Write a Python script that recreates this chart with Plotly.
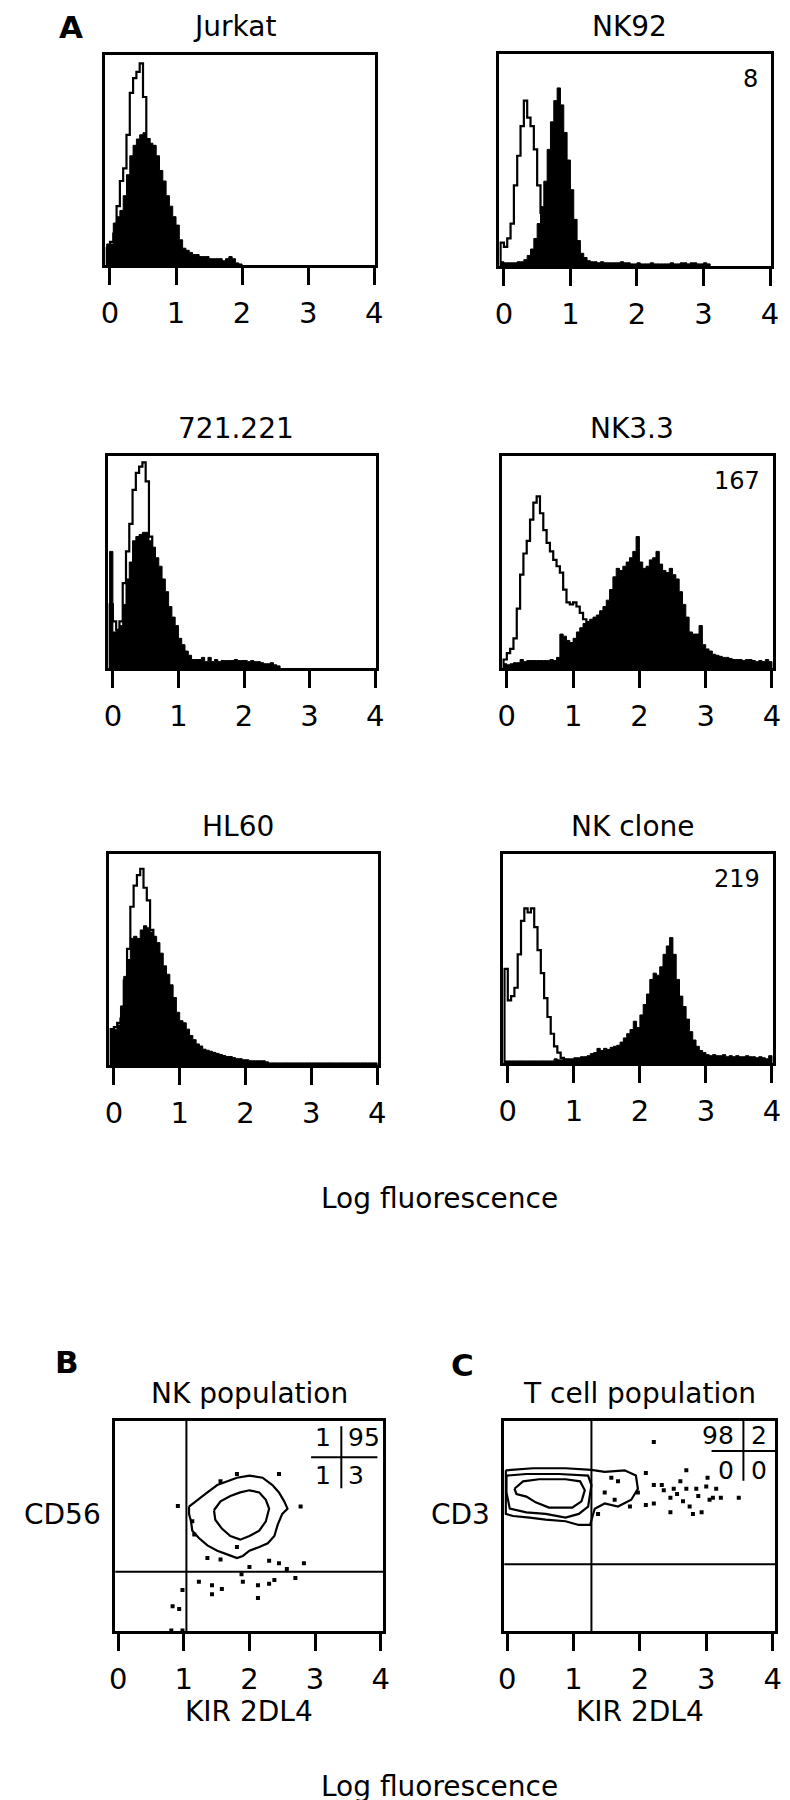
import plotly.graph_objects as go

W, H = 790, 1800
FONT = "DejaVu Sans, Liberation Sans, Arial, sans-serif"

# ---------------- data ----------------
BIN_START = -0.05      # left edge of first histogram channel (log fluorescence)
BIN_WIDTH = 0.05

panel_names = ["Jurkat", "NK92", "721.221", "NK3.3", "HL60", "NK clone"]
panel_numbers = ["", "8", "", "167", "", "219"]
x_ticks = [0, 1, 2, 3, 4]

# histogram heights (% of frame height), channel by channel from -0.05
jurkat_open = [8, 11, 15, 28, 40, 46, 62, 82, 89, 92, 96, 80, 60, 45, 35, 27, 20, 15, 11, 8,
               6, 4, 3, 2, 2, 1, 1]
jurkat_filled = [10, 10, 20, 23, 26, 33, 43, 52, 57, 60, 62, 63, 60, 58, 57, 52, 45, 40, 33, 28,
                 23, 19, 12, 8, 7, 6, 5, 5, 4, 4, 4, 3, 3, 3, 3, 2, 3, 4, 3, 1, 0.5]

nk92_open = [11, 9, 13, 20, 38, 52, 66, 78, 70, 66, 55, 38, 25, 15, 9, 5, 3, 2, 1, 1]
nk92_filled = [2, 1.5, 1.5, 1.5, 1.5, 2, 2, 3, 5, 8, 13, 20, 28, 40, 55, 68, 78, 84, 76, 63,
               50, 36, 22, 12, 6, 4, 2.5, 2, 2, 1.5, 2, 1.5, 1.5, 1.5, 1.5, 1.5, 2, 1.5, 1.5, 1,
               1, 1.5, 1, 1, 1, 1.5, 1, 1, 1, 1, 1, 1.5, 1, 1, 1.5, 1.5, 1, 1.5, 1.5, 1,
               1, 1.5, 1]

c721_open = [30, 22, 18, 22, 40, 55, 68, 84, 92, 95, 97, 88, 62, 45, 33, 25, 18, 13, 9, 6,
             4, 3, 2, 1]
c721_filled = [55, 17, 18, 20, 30, 42, 50, 60, 62, 63, 64, 64, 60, 57, 52, 48, 42, 36, 29, 24,
               20, 14, 11, 8, 6, 4, 4, 4, 5, 3, 5, 3, 4, 3, 3.5, 3.5, 3.5, 3.5, 4, 3.5,
               3.5, 3.5, 3, 3.5, 3, 3, 2.5, 2, 2, 2.5, 1.5, 1]

nk33_open = [4, 7, 9, 14, 28, 44, 54, 60, 70, 78, 81, 73, 65, 59, 55, 51, 48, 45, 37, 31,
             30, 31, 29, 26, 23, 21, 19, 16, 13, 10, 8, 6, 5, 4, 3, 2, 2, 1]
nk33_filled = [2, 1.5, 2, 2.5, 2.5, 4, 3, 3.5, 3.5, 3.5, 3.5, 3.5, 3.5, 3.5, 4, 3.5, 5, 16, 15, 13,
               12, 14, 17, 19, 21, 22, 23, 24, 25, 27, 29, 32, 37, 43, 47, 46, 48, 50, 52, 55,
               62, 50, 47, 48, 51, 52, 55, 49, 46, 45, 47, 44, 42, 36, 30, 24, 17, 16, 16, 20,
               11, 9, 8, 6.5, 6, 5.5, 5, 5, 4.5, 4, 4, 4, 3.5, 4, 4, 3.5, 3, 3.5, 3, 4,
               3]

hl60_open = [17, 18, 20, 22, 40, 55, 75, 85, 90, 93, 84, 78, 64, 50, 40, 32, 24, 18, 13, 9,
             6, 4, 3, 2, 1.5, 1]
hl60_filled = [17, 17, 19, 28, 42, 50, 60, 61, 60, 64, 66, 65, 63, 61, 58, 53, 47, 43, 38, 32,
               25, 21, 20, 17, 14, 12, 10, 9, 7.5, 7, 6.5, 6, 5.5, 5, 4.5, 4, 4, 3.5, 3, 3,
               2.5, 2.5, 2, 2, 2, 2, 2, 1.5, 1, 1, 1, 1, 1, 1, 1, 1, 1, 1, 1, 1,
               1, 1, 1, 1, 1, 1, 1, 1, 1, 1, 1, 1, 1, 1, 1, 1, 1, 1, 1, 1,
               1]

nkclone_open = [45, 30, 32, 36, 52, 68, 74, 72, 74, 65, 54, 43, 31, 22, 14, 8, 5, 2.5, 1.5, 1]
nkclone_filled = [1, 1, 1, 1, 1, 1, 1, 1, 1, 1, 1, 1, 1, 1, 1, 2, 1.5, 1.5, 2, 2,
                  2, 2.5, 2.5, 3, 3, 3.5, 4.5, 5, 7, 6, 7, 6.5, 7.5, 8, 8.5, 10, 12, 14, 16, 20,
                  17, 23, 28, 33, 40, 43, 42, 46, 52, 56, 60, 52, 40, 32, 27, 21, 15, 11, 8, 6,
                  5, 4, 3.5, 4, 3.5, 3.5, 4, 3, 3.5, 3, 3.5, 3, 3, 3.5, 3, 3, 2.5, 3, 2.5, 2,
                  3.5]

open_hists = [jurkat_open, nk92_open, c721_open, nk33_open, hl60_open, nkclone_open]
filled_hists = [jurkat_filled, nk92_filled, c721_filled, nk33_filled, hl60_filled, nkclone_filled]

# --- B: NK population (KIR 2DL4 vs CD56) ---
nk_gate_x, nk_gate_y = 1.04, 1.13
nk_quadrants = ["1", "95", "1", "3"]          # UL, UR, LL, LR (%)
nk_outer_x = [1.08, 1.21, 1.36, 1.51, 1.66, 1.81, 2.00, 2.20, 2.35, 2.45, 2.53, 2.58, 2.50, 2.43,
              2.38, 2.28, 2.15, 2.00, 1.90, 1.81, 1.66, 1.51, 1.36, 1.23, 1.13, 1.11, 1.08, 1.08]
nk_outer_y = [2.37, 2.50, 2.64, 2.78, 2.85, 2.92, 2.96, 2.92, 2.78, 2.64, 2.47, 2.33, 2.23, 2.02,
              1.81, 1.67, 1.60, 1.53, 1.43, 1.39, 1.46, 1.53, 1.63, 1.77, 1.91, 2.09, 2.23, 2.37]
nk_inner_x = [1.46, 1.56, 1.71, 1.86, 2.00, 2.15, 2.25, 2.30, 2.25, 2.15, 2.00, 1.86, 1.71, 1.58,
              1.48, 1.46]
nk_inner_y = [2.30, 2.47, 2.57, 2.64, 2.68, 2.64, 2.50, 2.33, 2.09, 1.91, 1.81, 1.74, 1.81, 1.95,
              2.12, 2.30]
nk_dots_x = [0.91, 1.36, 1.81, 2.30, 2.45, 2.57, 2.83, 2.70, 2.45, 1.81, 1.56, 2.78, 1.23, 1.43,
             1.58, 1.43, 1.88, 1.90, 2.13, 2.30, 2.38, 2.13, 0.98, 0.83, 0.93, 0.81, 0.98, 1.13,
             1.16, 1.56, 2.00]
nk_dots_y = [2.38, 1.39, 1.60, 1.34, 1.29, 1.18, 1.29, 1.01, 2.99, 2.99, 2.85, 2.37, 0.94, 0.87,
             0.80, 0.70, 1.08, 0.94, 0.87, 0.90, 0.97, 0.63, 0.78, 0.47, 0.42, 0.01, 0.01, 2.09,
             1.84, 1.36, 1.22]

# --- C: T cell population (KIR 2DL4 vs CD3) ---
t_gate_x, t_gate_y = 1.27, 1.27
t_quadrants = ["98", "2", "0", "0"]
t_outer_x = [-0.02, 0.39, 0.88, 1.27, 1.47, 1.77, 1.94, 1.97, 1.87, 1.67, 1.47, 1.32, 1.25, 1.08,
             0.88, 0.58, 0.34, 0.09, -0.02, -0.02]
t_outer_y = [3.06, 3.10, 3.10, 3.07, 3.03, 3.06, 2.96, 2.71, 2.50, 2.37, 2.43, 2.33, 2.02, 2.02,
             2.09, 2.12, 2.16, 2.19, 2.23, 3.06]
t_mid_x = [-0.01, 0.29, 0.78, 1.22, 1.27, 1.22, 1.08, 0.88, 0.58, 0.29, 0.04, -0.01, -0.01]
t_mid_y = [2.96, 2.99, 2.99, 2.96, 2.78, 2.37, 2.23, 2.16, 2.23, 2.26, 2.33, 2.64, 2.96]
t_inner_x = [0.11, 0.24, 0.48, 0.88, 1.10, 1.17, 1.12, 0.98, 0.63, 0.43, 0.29, 0.14, 0.11]
t_inner_y = [2.71, 2.85, 2.89, 2.89, 2.85, 2.68, 2.47, 2.35, 2.35, 2.45, 2.56, 2.61, 2.71]
t_dots_x = [2.21, 2.70, 3.02, 2.09, 2.21, 2.33, 2.51, 2.61, 2.70, 2.85, 3.00, 3.15, 3.22, 3.49,
            1.97, 2.09, 2.21, 2.46, 2.46, 2.75, 2.80, 2.93, 3.05, 1.85, 2.56, 2.88, 3.10, 2.65,
            2.36, 1.62, 1.47, 1.57, 1.67, 1.37]
t_dots_y = [3.60, 3.06, 2.92, 3.01, 2.78, 2.78, 2.71, 2.85, 2.71, 2.71, 2.75, 2.71, 2.54, 2.54,
            2.64, 2.40, 2.43, 2.54, 2.26, 2.37, 2.23, 2.26, 2.50, 2.37, 2.61, 2.57, 2.54, 2.47,
            2.68, 2.50, 2.64, 2.92, 2.85, 2.23]

# ---------------- layout helpers ----------------
# frame boxes in pixels: (left, right, top, bottom)
hist_boxes = [(93, 368, 47, 257), (494, 771, 46, 258),
              (96, 369, 448, 660), (497, 773, 448, 660),
              (97, 371, 846, 1057), (498, 773, 846, 1055)]
dot_boxes = [(103, 376, 1413, 1623), (499, 775, 1413, 1623)]


def px(x):
    return x / W


def py(y):
    return 1 - y / H


fig = go.Figure()
layout = {}
annotations = []
shapes = []

TICKFONT = dict(family=FONT, size=29, color="black")
TITLEFONT = dict(family=FONT, size=28, color="black")


def make_axes(idx, box, xrange, yrange):
    l, r, t, b = box
    xa = "xaxis" if idx == 1 else f"xaxis{idx}"
    ya = "yaxis" if idx == 1 else f"yaxis{idx}"
    layout[xa] = dict(domain=[px(l), px(r)], range=xrange, anchor=f"y{idx if idx > 1 else ''}",
                      tickmode="array", tickvals=x_ticks, ticktext=[str(v) for v in x_ticks],
                      ticks="outside", ticklen=17, tickwidth=2.5, tickcolor="black",
                      showline=True, mirror=True, linecolor="black", linewidth=3,
                      showgrid=False, zeroline=False, tickfont=TICKFONT,
                      ticklabelstandoff=3, fixedrange=True)
    layout[ya] = dict(domain=[py(b), py(t)], range=yrange, anchor=f"x{idx if idx > 1 else ''}",
                      showticklabels=False, ticks="", showline=True, mirror=True,
                      linecolor="black", linewidth=3, showgrid=False, zeroline=False,
                      fixedrange=True)
    return f"x{idx if idx > 1 else ''}", f"y{idx if idx > 1 else ''}"


def edges(n):
    return [round(BIN_START + i * BIN_WIDTH, 4) for i in range(n + 1)]


for i, name in enumerate(panel_names):
    box = hist_boxes[i]
    xr, yr = make_axes(i + 1, box, [-0.07, 4.02], [0, 100])
    o = open_hists[i]
    f = filled_hists[i]
    eo = edges(len(o))
    fig.add_trace(go.Scatter(x=[eo[0]] + eo, y=[0] + o + [0], mode="lines",
                             line=dict(shape="hv", color="black", width=2.2),
                             xaxis=xr, yaxis=yr, showlegend=False, hoverinfo="skip"))
    ef = edges(len(f))
    fig.add_trace(go.Scatter(x=[ef[0]] + ef, y=[0] + f + [0], mode="lines",
                             line=dict(shape="hv", color="black", width=1),
                             fill="tozeroy", fillcolor="black",
                             xaxis=xr, yaxis=yr, showlegend=False, hoverinfo="skip"))
    l, r, t, b = box
    annotations.append(dict(x=px((l + r) / 2 - 6), y=py(t - 28), xref="paper", yref="paper",
                            text=name, showarrow=False, xanchor="center", yanchor="middle",
                            font=TITLEFONT))
    if panel_numbers[i]:
        annotations.append(dict(x=3.85, y=88, xref=xr, yref=yr, text=panel_numbers[i],
                                showarrow=False, xanchor="right", yanchor="middle",
                                font=dict(family=FONT, size=24, color="black")))

# dot plots
dot_specs = [
    dict(title="NK population", ylabel="CD56", gx=nk_gate_x, gy=nk_gate_y, quads=nk_quadrants,
         contours=[(nk_outer_x, nk_outer_y), (nk_inner_x, nk_inner_y)], dots=(nk_dots_x, nk_dots_y),
         cross=dict(hx0=2.94, hx1=3.95, hy=3.31, vx=3.40, vy0=2.72, vy1=3.90,
                    lx=3.27, rx=3.47, ty=3.68, by=2.97)),
    dict(title="T cell population", ylabel="CD3", gx=t_gate_x, gy=t_gate_y, quads=t_quadrants,
         contours=[(t_outer_x, t_outer_y), (t_mid_x, t_mid_y), (t_inner_x, t_inner_y)],
         dots=(t_dots_x, t_dots_y),
         cross=dict(hx0=3.08, hx1=4.04, hy=3.43, vx=3.56, vy0=2.86, vy1=4.0,
                    lx=3.45, rx=3.64, ty=3.73, by=3.05)),
]

for j, spec in enumerate(dot_specs):
    idx = 7 + j
    box = dot_boxes[j]
    xr, yr = make_axes(idx, box, [-0.045, 4.04], [0, 4])
    for cx, cy in spec["contours"]:
        fig.add_trace(go.Scatter(x=cx, y=cy, mode="lines", line=dict(color="black", width=2.2),
                                 xaxis=xr, yaxis=yr, showlegend=False, hoverinfo="skip"))
    fig.add_trace(go.Scatter(x=spec["dots"][0], y=spec["dots"][1], mode="markers",
                             marker=dict(symbol="square", size=4, color="black"),
                             xaxis=xr, yaxis=yr, showlegend=False, hoverinfo="skip"))
    # quadrant gates
    shapes.append(dict(type="line", xref=xr, yref=yr, x0=spec["gx"], x1=spec["gx"], y0=0, y1=4,
                       line=dict(color="black", width=2)))
    shapes.append(dict(type="line", xref=xr, yref=yr, x0=-0.045, x1=4.04, y0=spec["gy"],
                       y1=spec["gy"], line=dict(color="black", width=2)))
    c = spec["cross"]
    shapes.append(dict(type="line", xref=xr, yref=yr, x0=c["hx0"], x1=c["hx1"], y0=c["hy"],
                       y1=c["hy"], line=dict(color="black", width=2)))
    shapes.append(dict(type="line", xref=xr, yref=yr, x0=c["vx"], x1=c["vx"], y0=c["vy0"],
                       y1=c["vy1"], line=dict(color="black", width=2)))
    qf = dict(family=FONT, size=25, color="black")
    q = spec["quads"]
    for txt, xx, yy, anc in [(q[0], c["lx"], c["ty"], "right"), (q[1], c["rx"], c["ty"], "left"),
                             (q[2], c["lx"], c["by"], "right"), (q[3], c["rx"], c["by"], "left")]:
        annotations.append(dict(x=xx, y=yy, xref=xr, yref=yr, text=txt, showarrow=False,
                                xanchor=anc, yanchor="middle", font=qf))
    l, r, t, b = box
    annotations.append(dict(x=px((l + r) / 2), y=py(t - 28), xref="paper", yref="paper",
                            text=spec["title"], showarrow=False, xanchor="center",
                            yanchor="middle", font=TITLEFONT))
    annotations.append(dict(x=px(l - 12), y=py((t + b) / 2 - 12), xref="paper", yref="paper",
                            text=spec["ylabel"], showarrow=False, xanchor="right",
                            yanchor="middle", font=TITLEFONT))
    annotations.append(dict(x=px((l + r) / 2), y=py(1703), xref="paper", yref="paper",
                            text="KIR 2DL4", showarrow=False, xanchor="center",
                            yanchor="middle", font=TITLEFONT))

# shared labels and panel letters
for ty in (1190, 1778):
    annotations.append(dict(x=px(433), y=py(ty), xref="paper", yref="paper",
                            text="Log fluorescence", showarrow=False, xanchor="center",
                            yanchor="middle", font=TITLEFONT))
for letter, lx, ly in [("A", 58, 19), ("B", 54, 1354), ("C", 457, 1357)]:
    annotations.append(dict(x=px(lx), y=py(ly), xref="paper", yref="paper",
                            text=f"<b>{letter}</b>", showarrow=False, xanchor="center",
                            yanchor="middle", font=dict(family=FONT, size=31, color="black")))

fig.update_layout(width=W, height=H, margin=dict(l=0, r=0, t=0, b=0),
                  paper_bgcolor="white", plot_bgcolor="white",
                  annotations=annotations, shapes=shapes, showlegend=False, **layout)

fig.write_html("out.html")
